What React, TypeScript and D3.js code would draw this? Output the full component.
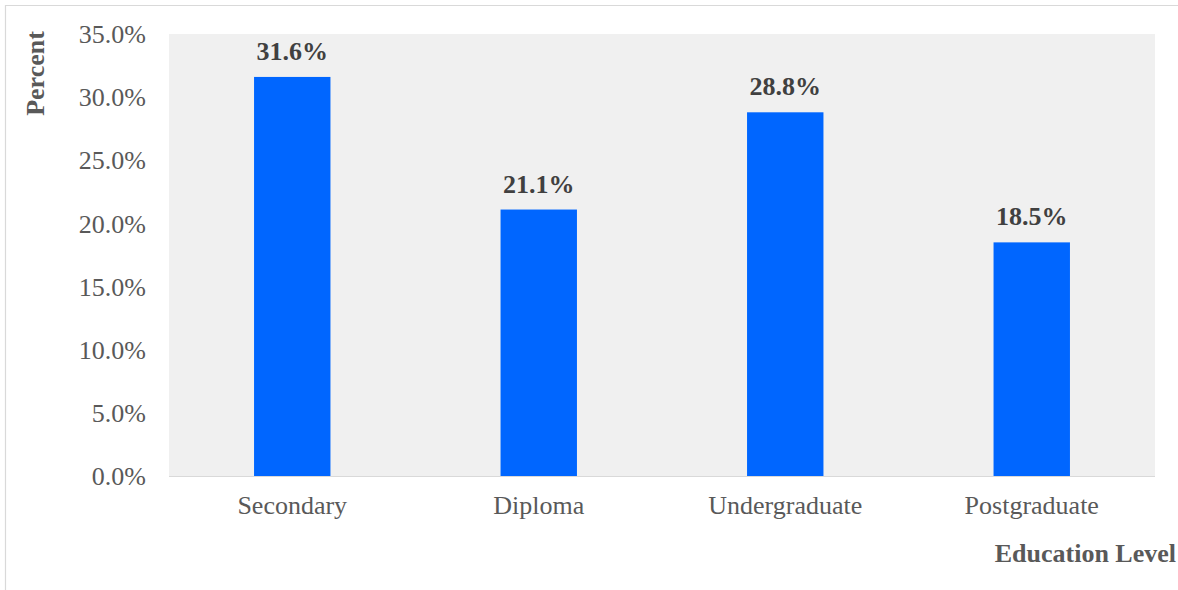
import React from "react";
import * as d3 from "d3";

const categories = ["Secondary", "Diploma", "Undergraduate", "Postgraduate"];
const values = [31.6, 21.1, 28.8, 18.5];
const yTicks = [0, 5, 10, 15, 20, 25, 30, 35];

export default function App() {
  const W = 1178;
  const H = 590;
  const left = 169;
  const right = 1155;
  const top = 34;
  const bottom = 476;
  const x = d3.scaleBand<string>().domain(categories).range([left, right]).paddingInner(0.69).paddingOuter(0.345);
  const y = d3.scaleLinear().domain([0, 35]).range([bottom, top]);
  const font = "'Liberation Serif', 'Times New Roman', serif";
  const fs = 26;
  return (
    <div style={{ position: "absolute", left: 0, top: 0 }}>
      <svg width={W} height={H} style={{ display: "block" }}>
        <rect x={0} y={0} width={W} height={H} fill="#fff" />
        <line x1={5} y1={5.5} x2={W} y2={5.5} stroke="#d9d9d9" strokeWidth={1.2} />
        <line x1={5.5} y1={5} x2={5.5} y2={H} stroke="#d9d9d9" strokeWidth={1.2} />
        <rect x={left} y={top} width={right - left} height={bottom - top} fill="#f0f0f0" />
        {categories.map((c, i) => (
          <rect key={c} x={x(c)} y={y(values[i])} width={x.bandwidth()} height={bottom - y(values[i])} fill="#0066ff" />
        ))}
        <line x1={left} x2={right} y1={bottom + 0.5} y2={bottom + 0.5} stroke="#d9d9d9" strokeWidth={1} />
        {yTicks.map((t) => (
          <text key={t} x={146} y={y(t)} dy="0.35em" textAnchor="end" fontFamily={font} fontSize={fs} fill="#595959">
            {t.toFixed(1) + "%"}
          </text>
        ))}
        {categories.map((c, i) => (
          <text key={c} x={(x(c) as number) + x.bandwidth() / 2} y={y(values[i]) - 17} textAnchor="middle" fontFamily={font} fontSize={fs} fontWeight="bold" fill="#404040">
            {values[i].toFixed(1) + "%"}
          </text>
        ))}
        {categories.map((c) => (
          <text key={c} x={(x(c) as number) + x.bandwidth() / 2} y={514} textAnchor="middle" fontFamily={font} fontSize={fs} fill="#595959">
            {c}
          </text>
        ))}
        <text x={1176} y={562} textAnchor="end" fontFamily={font} fontSize={fs} fontWeight="bold" fill="#595959">
          Education Level
        </text>
        <text transform="translate(44,73.5) rotate(-90)" textAnchor="middle" fontFamily={font} fontSize={fs} fontWeight="bold" fill="#595959">
          Percent
        </text>
      </svg>
    </div>
  );
}
